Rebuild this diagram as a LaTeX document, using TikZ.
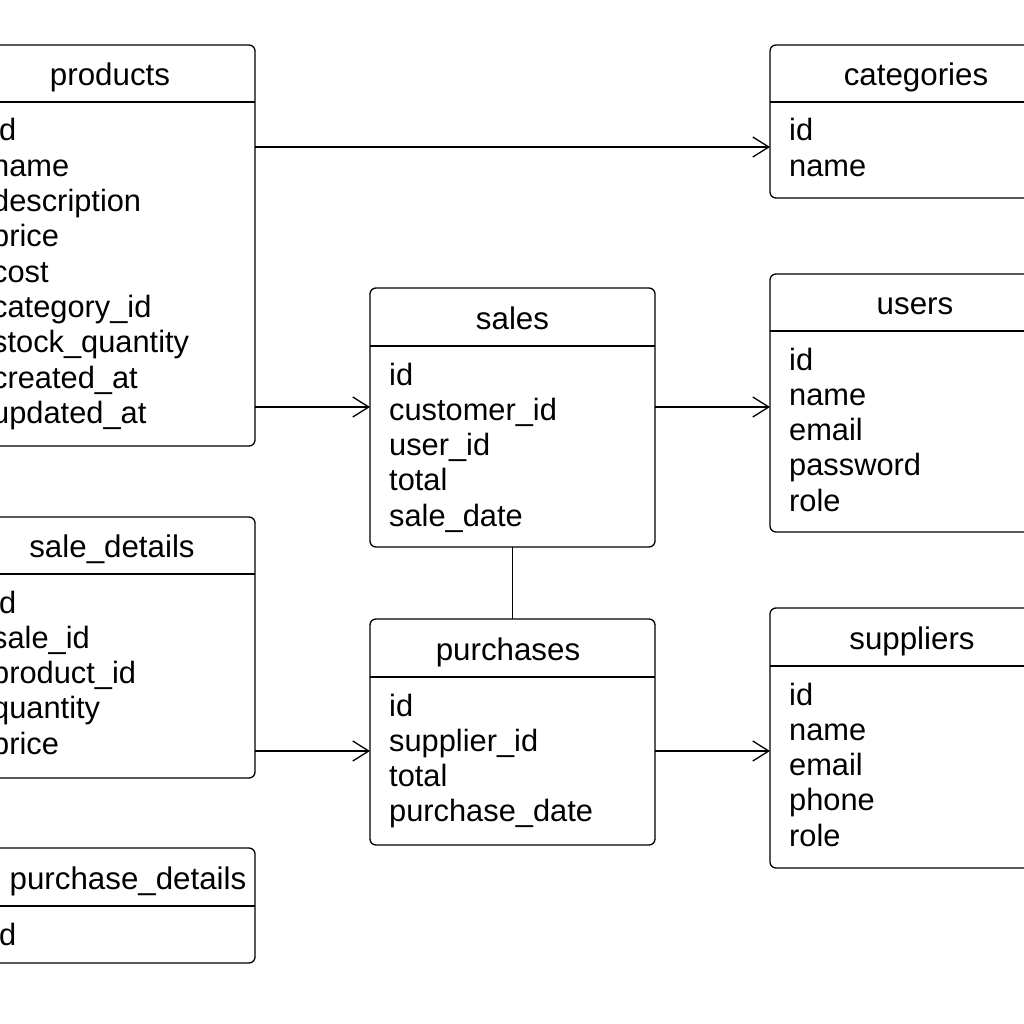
\documentclass[tikz,border=0pt]{standalone}
\usepackage{fontspec}
\setmainfont{Liberation Sans}
\usetikzlibrary{arrows.meta}
\tikzset{
  erbox/.style={draw, line width=1.3pt, rounded corners=6pt, inner sep=0pt, outer sep=0pt},
  sepline/.style={line width=1.3pt},
  ertitle/.style={inner sep=0pt, font=\fontsize{31.3}{36}\selectfont},
  erfield/.style={inner sep=0pt, font=\fontsize{30.8}{35}\selectfont},
  conn/.style={line width=1.3pt},
  arr/.style={conn, -{Straight Barb[length=16pt,width=20pt,line width=1.3pt]}}
}
% #1 name, #2 left, #3 right, #4 top, #5 header y, #6 bottom, #7 title, #8 title x, #9 rows
\newcommand\ertable[9]{%
  \node[erbox, minimum width={(#3)-(#2)}, minimum height={(#6)-(#4)}] (#1) at ({((#2)+(#3))/2},{((#4)+(#6))/2}) {};
  \coordinate (#1-h) at (0,#5);
  \draw[sepline] (#1.west |- #1-h) -- (#1.east |- #1-h);
  \node[ertitle, anchor=base] (#1-title) at (#8,{((#4)+(#5))/2+12}) {#7};
  \foreach \t [count=\i] in {#9} {
    \node[erfield, anchor=base west] (#1-f\i) at ({(#2)+19},{(#5)+39+(\i-1)*35.3}) {\t};
  }
}
\begin{document}
\begin{tikzpicture}[x=1pt,y=-1pt]
\useasboundingbox (0,0) rectangle (1024,1024);
\clip (0,0) rectangle (1024,1024);
\fill[white] (0,0) rectangle (1024,1024);

\ertable{products}{-27}{255}{45}{102}{446}{products}{110}{id,name,description,price,cost,category\_id,stock\_quantity,created\_at,updated\_at}
\ertable{categories}{770}{1062}{45}{102}{198}{categories}{916}{id,name}
\ertable{sales}{370}{655}{288}{346}{547}{sales}{512.5}{id,customer\_id,user\_id,total,sale\_date}
\ertable{users}{770}{1062}{274}{331}{532}{users}{915}{id,name,email,password,role}
\ertable{saledetails}{-27}{255}{517}{574}{778}{sale\_details}{112}{id,sale\_id,product\_id,quantity,price}
\ertable{purchases}{370}{655}{619}{677}{845}{purchases}{508}{id,supplier\_id,total,purchase\_date}
\ertable{suppliers}{770}{1062}{608}{666}{868}{suppliers}{912}{id,name,email,phone,role}
\ertable{purchasedetails}{-27}{255}{848}{906}{963}{purchase\_details}{128}{id}

\coordinate (r1) at (0,147);
\coordinate (r2) at (0,407);
\coordinate (r3) at (0,751);
\draw[arr] (products.east |- r1) -- (categories.west |- r1);
\draw[arr] (products.east |- r2) -- (sales.west |- r2);
\draw[arr] (sales.east |- r2) -- (users.west |- r2);
\draw[conn] (sales.south) -- (purchases.north);
\draw[arr] (saledetails.east |- r3) -- (purchases.west |- r3);
\draw[arr] (purchases.east |- r3) -- (suppliers.west |- r3);
\end{tikzpicture}
\end{document}
